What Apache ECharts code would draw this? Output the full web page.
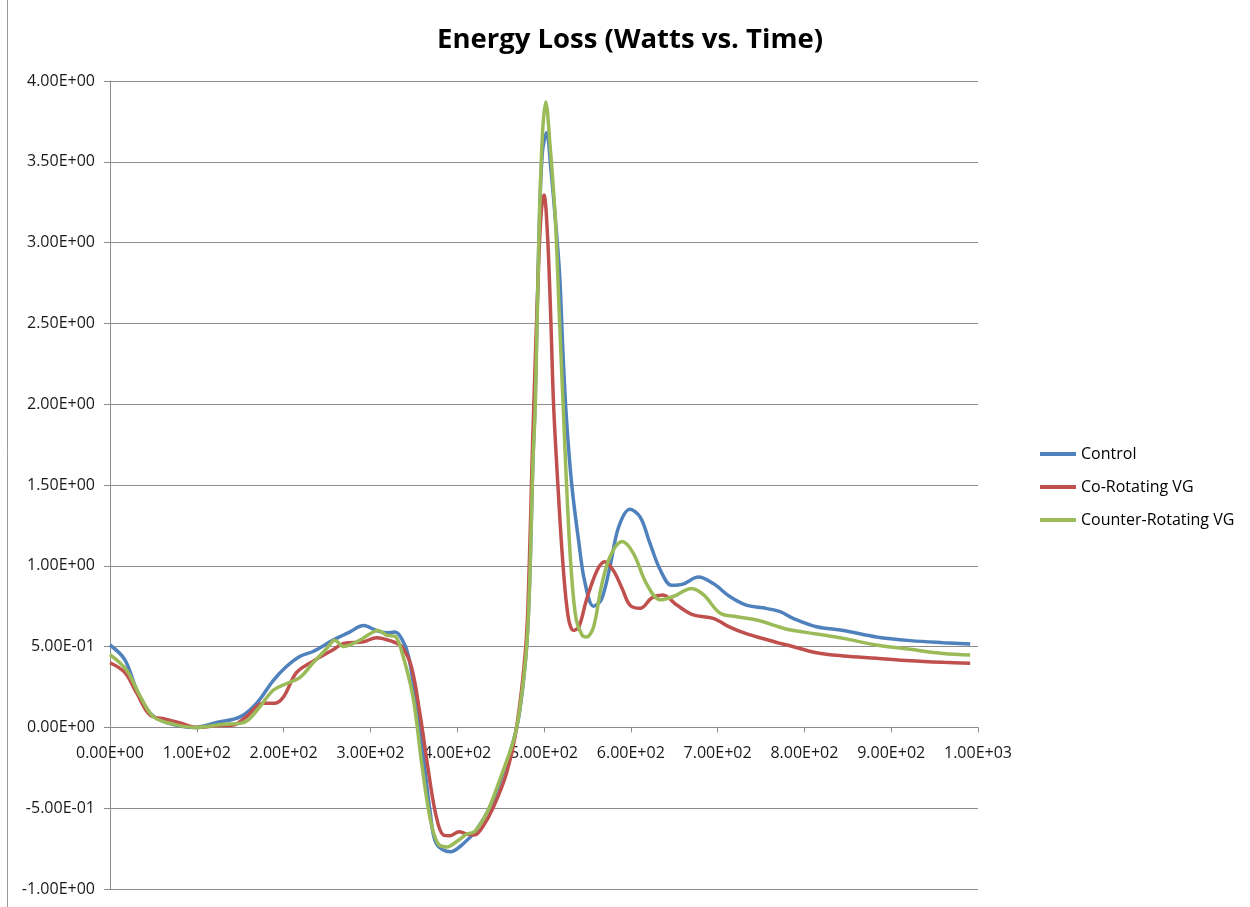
<!DOCTYPE html>
<html>
<head>
<meta charset="utf-8">
<title>Energy Loss (Watts vs. Time)</title>
<script src="https://cdn.jsdelivr.net/npm/echarts@6/dist/echarts.min.js"></script>
<style>
  html, body { margin: 0; padding: 0; background: #ffffff; }
  #chart { width: 1250px; height: 907px; }
</style>
</head>
<body>
<div id="chart"></div>
<script>
// Time samples and energy loss (W) for each configuration
const controlTime = [0, 17, 31, 46, 65, 98, 123, 150, 169, 188, 203, 219, 234, 257, 276, 292, 307, 319, 328, 336, 344, 353, 361, 369, 376, 392, 407, 422, 438, 453, 465, 472, 480, 484, 487, 490, 494, 498, 503, 508, 513, 518, 522, 526, 532, 540, 547, 557, 566, 576, 586, 599, 611, 622, 634, 647, 660, 678, 695, 714, 733, 752, 772, 787, 814, 845, 883, 922, 960, 991];
const controlLoss = [0.51, 0.42, 0.23, 0.09, 0.03, 0.0, 0.03, 0.065, 0.15, 0.29, 0.375, 0.44, 0.47, 0.54, 0.59, 0.63, 0.60, 0.585, 0.59, 0.55, 0.44, 0.13, -0.18, -0.53, -0.72, -0.77, -0.72, -0.635, -0.49, -0.28, -0.08, 0.10, 0.5, 0.99, 1.61, 2.05, 3.0, 3.55, 3.68, 3.45, 3.15, 2.8, 2.3, 1.9, 1.5, 1.15, 0.9, 0.75, 0.79, 0.995, 1.24, 1.35, 1.30, 1.14, 0.974, 0.88, 0.887, 0.93, 0.89, 0.81, 0.757, 0.74, 0.716, 0.675, 0.623, 0.60, 0.56, 0.537, 0.524, 0.516];

const coTime = [0, 17, 31, 46, 65, 81, 100, 123, 142, 157, 176, 190, 200, 215, 234, 257, 269, 292, 307, 326, 336, 347, 357, 366, 375, 384, 392, 402, 411, 420, 430, 442, 457, 468, 479, 483, 486, 488, 494, 497, 500, 504, 508, 511, 516, 522, 528, 534, 540, 549, 561, 570, 580, 590, 599, 611, 624, 637, 653, 672, 695, 714, 733, 752, 772, 780, 814, 845, 883, 922, 960, 991];
const coLoss = [0.40, 0.34, 0.21, 0.077, 0.05, 0.027, 0.0, 0.01, 0.015, 0.066, 0.15, 0.15, 0.19, 0.34, 0.41, 0.48, 0.52, 0.53, 0.555, 0.53, 0.50, 0.38, 0.087, -0.24, -0.53, -0.666, -0.67, -0.645, -0.66, -0.666, -0.61, -0.49, -0.28, -0.016, 0.5, 1.0, 1.6, 1.95, 2.9, 3.2, 3.295, 3.05, 2.5, 2.0, 1.5, 1.0, 0.68, 0.60, 0.62, 0.79, 0.97, 1.025, 0.97, 0.86, 0.757, 0.737, 0.80, 0.82, 0.757, 0.696, 0.675, 0.62, 0.58, 0.55, 0.52, 0.51, 0.462, 0.442, 0.428, 0.413, 0.403, 0.397];

const counterTime = [0, 19, 35, 50, 73, 98, 131, 150, 159, 173, 188, 203, 219, 234, 250, 259, 269, 288, 309, 319, 328, 335, 349, 359, 369, 378, 388, 401, 411, 420, 434, 449, 465, 472, 480, 484, 487, 490, 494, 498, 502, 507, 513, 518, 522, 526, 531, 537, 544, 549, 557, 566, 576, 590, 603, 618, 634, 649, 670, 684, 703, 722, 745, 772, 780, 814, 845, 883, 922, 960, 991];
const counterLoss = [0.45, 0.355, 0.19, 0.066, 0.02, 0.0, 0.02, 0.025, 0.045, 0.13, 0.23, 0.27, 0.31, 0.40, 0.49, 0.54, 0.50, 0.54, 0.60, 0.57, 0.565, 0.49, 0.19, -0.22, -0.57, -0.72, -0.74, -0.70, -0.66, -0.645, -0.53, -0.325, -0.08, 0.11, 0.5, 0.99, 1.61, 2.0, 3.0, 3.65, 3.87, 3.6, 3.15, 2.5, 2.0, 1.5, 1.0, 0.67, 0.57, 0.56, 0.62, 0.87, 1.056, 1.15, 1.077, 0.89, 0.79, 0.81, 0.86, 0.82, 0.706, 0.685, 0.665, 0.62, 0.607, 0.578, 0.551, 0.51, 0.483, 0.458, 0.448];

const seriesNames = ['Control', 'Co-Rotating VG', 'Counter-Rotating VG'];
const seriesColors = ['#4F81BD', '#C0504D', '#9BBB59'];

// Axis range: the time axis sits on the zero line, two intervals above the bottom
const yMin = -1, yMax = 4, yStep = 0.5;
const xMin = 0, xMax = 1000, xStep = 100;

// Spreadsheet-style scientific notation, e.g. 5.00E-01
function sci(v) {
  if (Math.abs(v) < 1e-12) return '0.00E+00';
  const exp = Math.floor(Math.log10(Math.abs(v)) + 1e-9);
  const mant = v / Math.pow(10, exp);
  const sign = exp < 0 ? '-' : '+';
  const e = String(Math.abs(exp)).padStart(2, '0');
  return mant.toFixed(2) + 'E' + sign + e;
}

function zip(xs, ys) { return xs.map((x, i) => [x, ys[i]]); }

const chart = echarts.init(document.getElementById('chart'), null, { renderer: 'canvas' });

const gridTop = 81, gridBottom = 18;
const plotHeight = 907 - gridTop - gridBottom;
// distance from the bottom edge of the plot up to the zero line
const zeroOffset = plotHeight * (0 - yMin) / (yMax - yMin);

const labelFont = { fontFamily: 'Open Sans', fontSize: 16, color: '#1a1a1a' };

const lineSeries = [zip(controlTime, controlLoss), zip(coTime, coLoss), zip(counterTime, counterLoss)]
  .map((data, i) => ({
    name: seriesNames[i],
    type: 'line',
    data: data,
    smooth: 0.35,
    symbol: 'none',
    showSymbol: false,
    lineStyle: { width: 3.5, color: seriesColors[i] },
    itemStyle: { color: seriesColors[i] },
    z: 3 + i
  }));

chart.setOption({
  animation: false,
  backgroundColor: '#ffffff',
  title: {
    text: 'Energy Loss (Watts vs. Time)',
    left: 625,
    top: 21,
    textAlign: 'center',
    textStyle: { fontFamily: 'Open Sans', fontSize: 27.5, fontWeight: 'bold', color: '#000' }
  },
  legend: {
    orient: 'vertical',
    left: 1035,
    top: 441,
    icon: 'rect',
    itemWidth: 36,
    itemHeight: 4,
    itemGap: 17,
    textStyle: { fontFamily: 'Open Sans', fontSize: 16, color: '#000' },
    data: seriesNames
  },
  grid: { left: 110, right: 272, top: gridTop, bottom: gridBottom, containLabel: false, outerBoundsMode: 'none' },
  xAxis: {
    type: 'value',
    min: xMin,
    max: xMax,
    interval: xStep,
    position: 'bottom',
    offset: -zeroOffset,
    axisLine: { onZero: false, lineStyle: { color: '#8c8c8c', width: 1 } },
    axisTick: { show: true, length: 5, lineStyle: { color: '#8c8c8c' } },
    axisLabel: Object.assign({ margin: 18, formatter: sci }, labelFont),
    splitLine: { show: false }
  },
  yAxis: {
    type: 'value',
    min: yMin,
    max: yMax,
    interval: yStep,
    axisLine: { show: true, lineStyle: { color: '#8c8c8c', width: 1 } },
    axisTick: { show: true, length: 6, lineStyle: { color: '#8c8c8c' } },
    axisLabel: Object.assign({ margin: 15, formatter: sci }, labelFont),
    splitLine: { show: true, lineStyle: { color: '#8c8c8c', width: 1 } }
  },
  graphic: [{
    type: 'line',
    shape: { x1: 7.5, y1: 0, x2: 7.5, y2: 907 },
    style: { stroke: '#9a9a9a', lineWidth: 1 }
  }],
  series: lineSeries
});
</script>
</body>
</html>
